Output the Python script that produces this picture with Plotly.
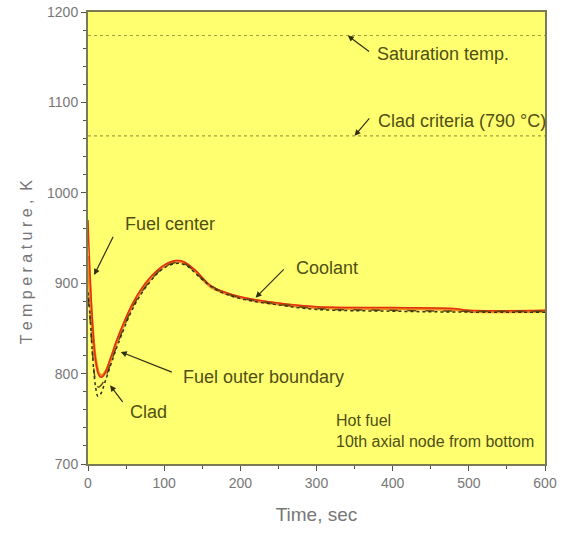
import plotly.graph_objects as go

# Data
t_center = [0, 1, 3, 6, 10, 15, 18, 22, 30, 40, 60, 80, 100, 115, 125, 140, 160, 180, 200, 250, 300, 400, 480, 500, 600]
T_center = [970, 945, 905, 855, 815, 797, 796, 800, 818, 842, 880, 905, 920, 925, 924, 915, 898, 890, 885, 878, 874, 873, 872, 870, 870]

t_outer = [0, 2, 5, 10, 15, 19, 24, 30, 40, 60, 80, 100, 115, 125, 140, 160, 180, 200, 250, 300, 400, 480, 500, 600]
T_outer = [930, 900, 860, 815, 799, 798, 803, 816, 840, 878, 903, 919, 924, 923, 914, 897, 889, 884, 877, 873, 872, 871, 869, 869]

t_clad = [0, 3, 6, 10, 13, 17, 22, 30, 40, 60, 80, 100, 118, 130, 150, 170, 200, 250, 300, 400, 500, 600]
T_clad = [890, 860, 820, 785, 775, 778, 790, 810, 834, 874, 900, 917, 922, 919, 904, 892, 883, 876, 871, 869, 868, 868]

t_cool = [0, 3, 6, 10, 14, 18, 24, 30, 40, 60, 80, 100, 118, 130, 150, 170, 200, 250, 300, 400, 500, 600]
T_cool = [885, 858, 822, 792, 785, 788, 798, 812, 836, 876, 901, 918, 923, 920, 905, 893, 884, 877, 872, 870, 869, 869]

T_saturation = 1174
T_clad_criteria = 1063

x_ticks = [0, 100, 200, 300, 400, 500, 600]
y_ticks = [700, 800, 900, 1000, 1100, 1200]

txt = "#4f4f15"
font = "Liberation Sans, Arial"

fig = go.Figure()
fig.add_trace(go.Scatter(x=[0, 600], y=[T_saturation] * 2, mode="lines",
                         line=dict(color="#a0a040", width=1.2, dash="dot"), showlegend=False))
fig.add_trace(go.Scatter(x=[0, 600], y=[T_clad_criteria] * 2, mode="lines",
                         line=dict(color="#a0a040", width=1.2, dash="dot"), showlegend=False))
fig.add_trace(go.Scatter(x=t_outer, y=T_outer, mode="lines", line=dict(color="#f08a20", width=3, shape="spline"), showlegend=False))
fig.add_trace(go.Scatter(x=t_center, y=T_center, mode="lines", line=dict(color="#e03010", width=1.5, shape="spline"), showlegend=False))
fig.add_trace(go.Scatter(x=t_cool, y=T_cool, mode="lines", line=dict(color="#6a4a10", width=1.5, dash="dash", shape="spline"), showlegend=False))
fig.add_trace(go.Scatter(x=t_clad, y=T_clad, mode="lines", line=dict(color="#303010", width=1.5, dash="dot", shape="spline"), showlegend=False))

def arrow(x, y, ax, ay):
    fig.add_annotation(x=x, y=y, ax=ax, ay=ay, xref="x", yref="y", axref="x", ayref="y",
                       text="", showarrow=True, arrowhead=2, arrowsize=1, arrowwidth=1.2,
                       arrowcolor="#303010")

def label(text, x, y, size=18):
    fig.add_annotation(x=x, y=y, xref="x", yref="y", text=text, showarrow=False,
                       xanchor="left", yanchor="middle", font=dict(size=size, color=txt, family=font))

# arrows (head, tail)
arrow(8, 909, 34, 953)
label("Fuel center", 46, 966)
arrow(220, 884, 259, 917)
label("Coolant", 270, 917)
arrow(43, 824, 112, 801)
label("Fuel outer boundary", 122, 796)
arrow(29, 787, 47, 767)
label("Clad", 52, 758)
arrow(341, T_saturation, 371, 1155)
label("Saturation temp.", 377, 1153)
arrow(350, T_clad_criteria, 371, 1084)
label("Clad criteria (790 °C)", 378, 1079)
fig.add_annotation(x=323, y=736, xref="x", yref="y", xanchor="left", yanchor="middle", showarrow=False,
                   text="Hot fuel<br>10th axial node from bottom", align="left",
                   font=dict(size=16, color=txt, family=font))

# y axis title placed as in the reference (slightly below centre)
fig.add_annotation(x=-0.133, y=0.447, xref="paper", yref="paper", xanchor="center", yanchor="middle",
                   text="T e m p e r a t u r e ,  K", textangle=-90, showarrow=False,
                   font=dict(size=16, color="#777777", family=font))

axis_common = dict(showgrid=False, zeroline=False, showline=True, linecolor="#7a7a55", linewidth=2,
                   mirror=True, ticks="outside", ticklen=5, tickcolor="#555544",
                   tickfont=dict(size=14, color="#777777", family=font))

fig.update_xaxes(range=[0, 600], tickvals=x_ticks, ticktext=[str(v) for v in x_ticks],
                 minor=dict(dtick=50, ticks="outside", ticklen=3, tickcolor="#555544"),
                 title=dict(text="Time, sec", font=dict(size=19, color="#777777", family=font), standoff=18),
                 **axis_common)
fig.update_yaxes(range=[700, 1200], tickvals=y_ticks, ticktext=[str(v) for v in y_ticks],
                 minor=dict(dtick=20, ticks="outside", ticklen=3, tickcolor="#555544"),
                 **axis_common)

fig.update_layout(width=565, height=535, margin=dict(l=88, r=20, t=12, b=71, autoexpand=False),
                  plot_bgcolor="#ffff70", paper_bgcolor="white")

fig.write_html("out.html")
